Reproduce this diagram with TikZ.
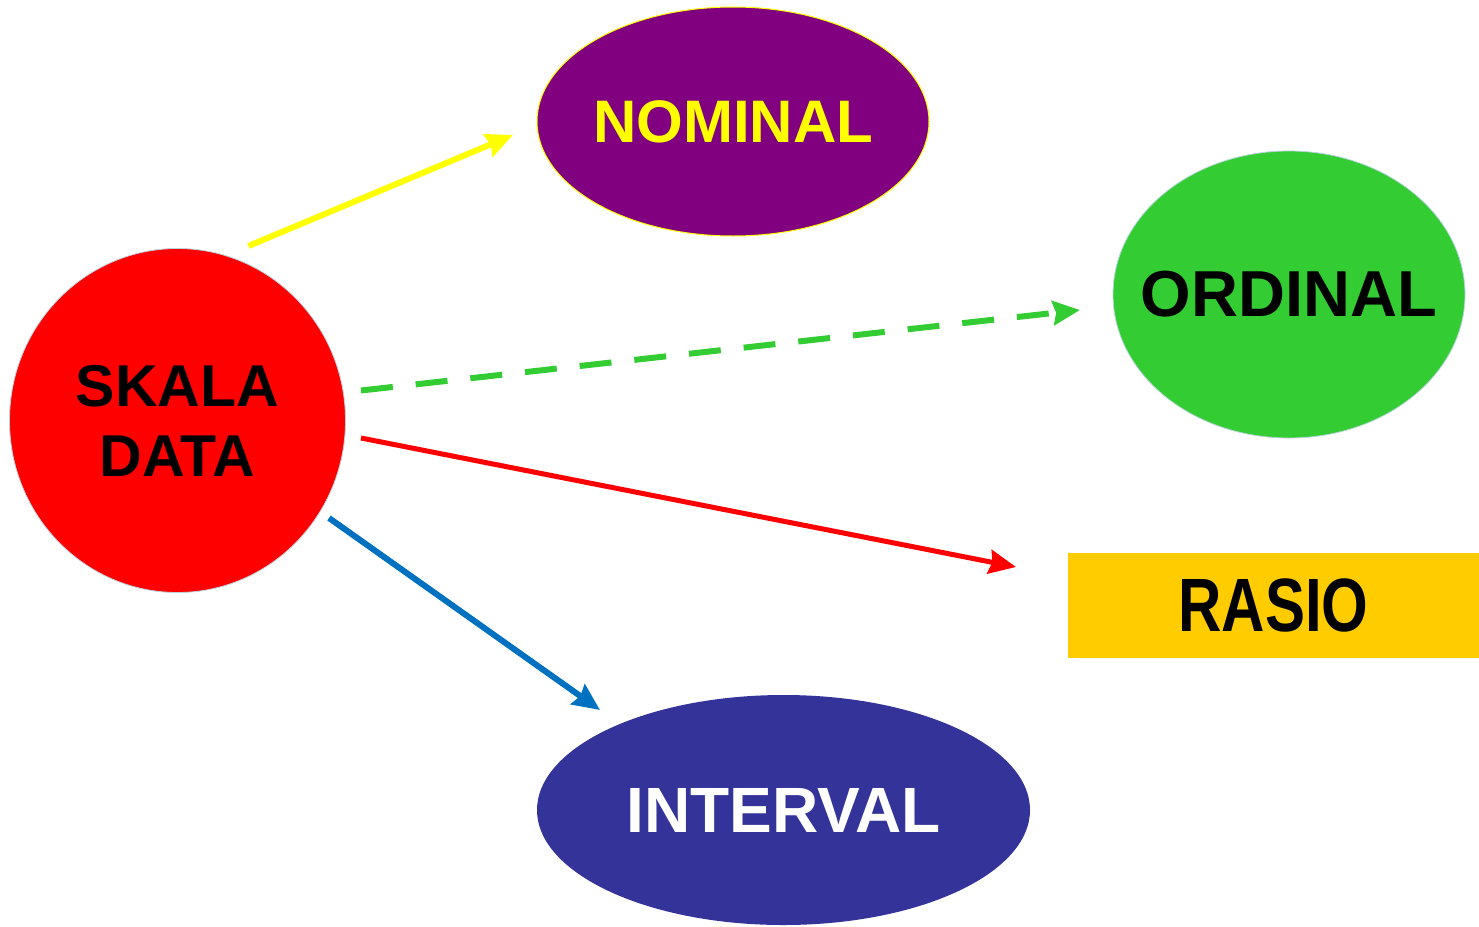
\documentclass[tikz,border=0pt]{standalone}
\usepackage{fontspec}
\setmainfont{Liberation Sans}
\usetikzlibrary{arrows.meta,shapes.geometric}
\definecolor{cpurple}{HTML}{800080}
\definecolor{cgreen}{HTML}{33CC33}
\definecolor{cred}{HTML}{FF0000}
\definecolor{cblue}{HTML}{0070C0}
\definecolor{cnavy}{HTML}{333399}
\definecolor{cgold}{HTML}{FFCC00}
\definecolor{cyel}{HTML}{FFFF00}
\definecolor{cedge}{HTML}{B8D4DC}
\tikzset{
  blob/.style={ellipse, inner sep=0pt, font=\bfseries\fontsize{60}{70}\selectfont, align=center, text width=0pt},
  conn/.style={line width=6pt, -{Stealth[length=27pt,width=24pt,inset=3pt]}},
}
\begin{document}
\begin{tikzpicture}[x=1pt,y=-1pt]
\useasboundingbox (0,0) rectangle (1479,926);
\node[blob, fill=cred, draw=cedge, line width=0.8pt, minimum width=336pt, minimum height=344pt, font=\bfseries\fontsize{59}{70}\selectfont] (skala) at (177.5,420.5) {\makebox[0pt]{SKALA}\\\makebox[0pt]{DATA}};
\node[blob, fill=cpurple, draw=cyel, line width=1pt, text=cyel, minimum width=392pt, minimum height=229pt] (nominal) at (733,121.5) {\makebox[0pt]{NOMINAL}};
\node[blob, fill=cgreen, draw=cedge, line width=0.8pt, minimum width=352pt, minimum height=287pt, font=\bfseries\fontsize{65}{70}\selectfont] (ordinal) at (1289,294.5) {\makebox[0pt]{ORDINAL}};
\node[fill=cgold, inner sep=0pt, minimum width=411pt, minimum height=105pt, font=\bfseries\fontsize{60}{70}\selectfont] (rasio) at (1273.5,605.5) {\scalebox{1}[1.26]{RASIO}};
\node[blob, fill=cnavy, text=white, minimum width=493pt, minimum height=230pt, font=\bfseries\fontsize{64}{70}\selectfont] (interval) at (783.5,810) {\makebox[0pt]{INTERVAL}};
\coordinate (y1) at (248.5,246);
\coordinate (y2) at (513,135);
\coordinate (g1) at (361,390.5);
\coordinate (g2) at (1080,310);
\coordinate (r1) at (361,438);
\coordinate (r2) at (1016,567);
\coordinate (b1) at (329,518);
\coordinate (b2) at (600,710);
\draw[conn, cyel] (y1) -- (y2);
\draw[conn, cgreen, dash pattern=on 32pt off 23pt] (g1) -- (g2);
\draw[conn, cred, line width=5pt] (r1) -- (r2);
\draw[conn, cblue] (b1) -- (b2);
\end{tikzpicture}
\end{document}
